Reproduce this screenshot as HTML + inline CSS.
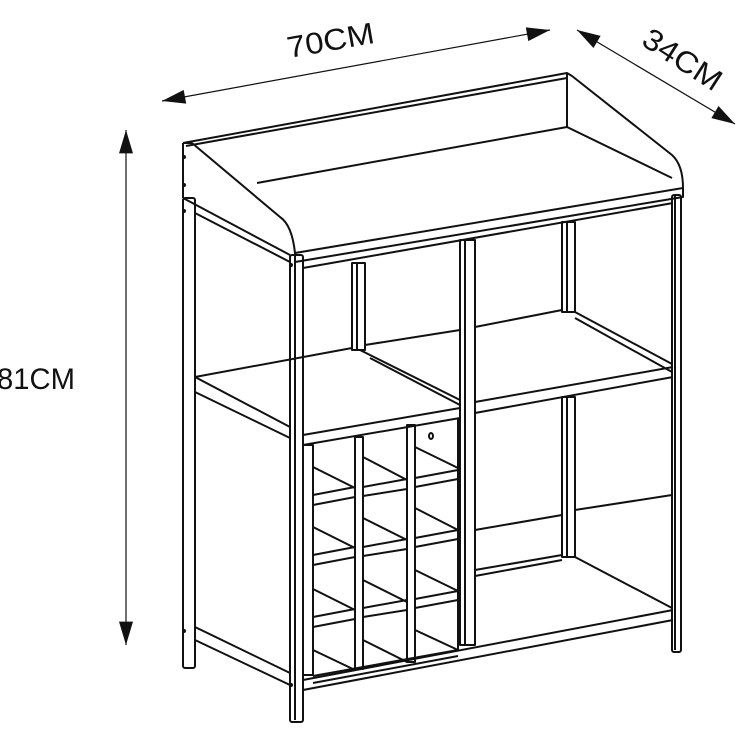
<!DOCTYPE html>
<html><head><meta charset="utf-8"><style>html,body{margin:0;padding:0;background:#fff}svg{display:block}</style></head>
<body>
<svg width="740" height="740" viewBox="0 0 740 740" xmlns="http://www.w3.org/2000/svg">
<defs>
<marker id="ah2" viewBox="0 0 20 12" refX="20" refY="6" markerWidth="24" markerHeight="14" orient="auto-start-reverse" markerUnits="userSpaceOnUse"><path d="M0,0 L20,6 L0,12 z" fill="#111"/></marker>
</defs>
<g stroke="#111" stroke-width="1.2" fill="none">
<line x1="162" y1="101" x2="550" y2="30" marker-start="url(#ah2)" marker-end="url(#ah2)"/>
<line x1="577" y1="30" x2="735" y2="124" marker-start="url(#ah2)" marker-end="url(#ah2)"/>
<line x1="126" y1="130" x2="126" y2="645" marker-start="url(#ah2)" marker-end="url(#ah2)"/>
</g>
<g font-family="Liberation Sans, sans-serif" font-size="30" fill="#111">
<text x="289" y="58" transform="rotate(-10 289 58)" textLength="88" lengthAdjust="spacingAndGlyphs">70CM</text>
<text x="640" y="44" transform="rotate(33 640 44)" textLength="88" lengthAdjust="spacingAndGlyphs">34CM</text>
<text x="-3" y="389" textLength="78" lengthAdjust="spacingAndGlyphs">81CM</text>
</g>
<g stroke="#111" stroke-width="2" fill="none" stroke-linejoin="round">
<path d="M183,143 L567,73 L572,76 L672,155 Q683,165 683,188 L295,253 Q292,225 280,217 L192,143"/>
<path d="M183,143 L192,143"/>
<line x1="186" y1="146" x2="567" y2="78"/>
<path d="M257,183 L567,127 L672,178"/>
<line x1="567" y1="73" x2="567" y2="127"/>
<line x1="183" y1="143" x2="183" y2="198"/>
<path d="M295,253 L295,262 L683,197 L683,188"/>
<path d="M303,268 L673,203"/>
<path d="M183,198 L290,255"/>
<path d="M195,213 L290,262"/>
<rect x="183" y="198" width="12" height="470" rx="2"/>
<rect x="290" y="255" width="13" height="467" rx="2"/>
<rect x="672" y="195" width="9" height="457" rx="2"/>
<line x1="675" y1="195" x2="675" y2="650"/>
<rect x="460" y="240" width="15" height="405"/>
<line x1="465" y1="240" x2="465" y2="645"/>
<line x1="295" y1="262" x2="295" y2="720"/>
<rect x="352" y="263" width="13" height="87"/>
<line x1="357" y1="263" x2="357" y2="350"/>
<rect x="562" y="222" width="13" height="90"/>
<line x1="567" y1="222" x2="567" y2="312"/>
<rect x="562" y="397" width="13" height="160"/>
<line x1="567" y1="397" x2="567" y2="557"/>
<path d="M195,377 L352,348"/>
<path d="M365,345 L460,330"/>
<path d="M195,377 L290,427"/>
<path d="M195,392 L290,438"/>
<path d="M360,350 L460,400"/>
<path d="M370,358 L460,405"/>
<path d="M303,435 L460,408 M303,445 L460,418"/>
<path d="M475,327 L562,310"/>
<path d="M575,312 L672,364"/>
<path d="M575,318 L672,372"/>
<path d="M475,402 L673,367 M475,413 L673,377"/>
<path d="M475,530 L562,515 M575,510 L672,495"/>
<path d="M475,570 L562,555 M475,576 L562,560"/>
<path d="M575,557 L672,608"/>
<path d="M303,680 L673,610 M303,690 L673,620"/>
<path d="M195,627 L290,673 M195,640 L290,685"/>
<rect x="303" y="445" width="10" height="230"/>
<rect x="355" y="437" width="8" height="232"/>
<rect x="407" y="425" width="8" height="237"/>
<line x1="458" y1="418" x2="458" y2="650"/>
<path d="M313,676 L458,650 M313,683 L458,656"/>
<path d="M313,467 L355,488 M313,495 L355,487 M313,505 L355,497"/>
<path d="M313,527 L355,548 M313,555 L355,547 M313,565 L355,557"/>
<path d="M313,589 L355,610 M313,617 L355,609 M313,627 L355,619"/>
<path d="M313,650 L355,670"/>
<path d="M363,457 L407,480 M363,487 L407,479 M363,496 L407,489"/>
<path d="M363,518 L407,540 M363,547 L407,539 M363,556 L407,549"/>
<path d="M363,580 L407,602 M363,608 L407,600 M363,617 L407,610"/>
<path d="M363,640 L407,662"/>
<path d="M415,447 L458,468 M415,478 L458,470 M415,487 L458,479"/>
<path d="M415,508 L458,530 M415,538 L458,530 M415,547 L458,539"/>
<path d="M415,570 L458,591 M415,599 L458,591 M415,608 L458,600"/>
<path d="M415,630 L458,650"/>
<ellipse cx="431" cy="436" rx="2" ry="3"/>
</g>
<g fill="#111">
<circle cx="184" cy="157" r="2"/><circle cx="184" cy="185" r="2"/>
<circle cx="184" cy="211" r="2"/><circle cx="291" cy="265" r="2"/>
<circle cx="184" cy="631" r="2"/><circle cx="291" cy="685" r="2"/>
</g>
</svg>
</body></html>
